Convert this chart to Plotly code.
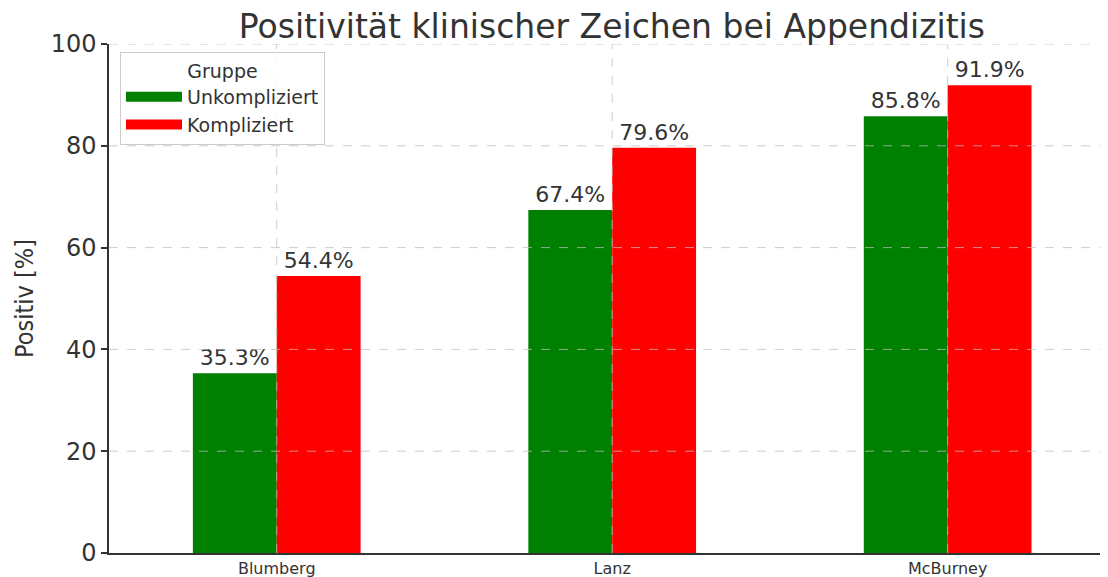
import plotly.graph_objects as go

categories = ["Blumberg", "Lanz", "McBurney"]
unkompliziert = [35.3, 67.4, 85.8]
kompliziert = [54.4, 79.6, 91.9]
series_names = ["Unkompliziert", "Kompliziert"]
colors = ["#008000", "#ff0000"]
y_ticks = [0, 20, 40, 60, 80, 100]

TXT = "#333333"
GRID = "rgba(190,190,190,0.75)"

fig = go.Figure()
for name, vals, col in zip(series_names, [unkompliziert, kompliziert], colors):
    fig.add_trace(go.Bar(
        x=categories, y=vals, name=name, showlegend=False,
        marker=dict(color=col, line=dict(width=0)),
        text=[f"{v:.1f}%" for v in vals],
        textposition="outside",
        textfont=dict(family="DejaVu Sans", size=22, color=TXT),
        cliponaxis=False,
    ))
# legend entries drawn as wide patches
for name, col in zip(series_names, colors):
    fig.add_trace(go.Scatter(
        x=[None], y=[None], mode="lines", name=name,
        line=dict(color=col, width=12),
    ))

shapes = []
for c in categories:
    shapes.append(dict(type="line", xref="x", yref="paper", x0=c, x1=c, y0=0, y1=1,
                       line=dict(color=GRID, width=1, dash="dash"), layer="above"))
for t in y_ticks[1:]:
    shapes.append(dict(type="line", xref="paper", yref="y", x0=0, x1=1, y0=t, y1=t,
                       line=dict(color=GRID, width=1, dash="dash"), layer="above"))

fig.update_layout(
    width=1100, height=569,
    margin=dict(l=101, r=0, t=36, b=24, autoexpand=False),
    paper_bgcolor="white", plot_bgcolor="white",
    barmode="group", bargap=0.5, bargroupgap=0,
    shapes=shapes,
    title=dict(text="Positivität klinischer Zeichen bei Appendizitis",
               x=0.549, xanchor="center", y=0.988, yanchor="top",
               font=dict(family="DejaVu Sans", size=33, color=TXT)),
    legend=dict(
        title=dict(text="Gruppe", side="top center",
                   font=dict(family="DejaVu Sans", size=19, color=TXT)),
        x=0.011, y=0.984, xanchor="left", yanchor="top",
        bgcolor="rgba(255,255,255,0.85)", bordercolor="#cccccc", borderwidth=1,
        font=dict(family="DejaVu Sans", size=19, color=TXT),
        itemwidth=56, tracegroupgap=0,
    ),
    xaxis=dict(
        type="category", range=[-0.5, 2.478], automargin=False,
        showgrid=False, showline=True, linecolor=TXT, linewidth=1.5,
        ticks="", tickfont=dict(family="DejaVu Sans", size=16, color=TXT),
    ),
    yaxis=dict(
        range=[0, 100], tickvals=y_ticks, automargin=False,
        showgrid=False, zeroline=False,
        showline=True, linecolor=TXT, linewidth=1.5,
        ticks="outside", ticklen=6, tickcolor=TXT, tickwidth=1.5,
        tickfont=dict(family="DejaVu Sans", size=24, color=TXT),
        title=dict(text="Positiv [%]", standoff=10,
                   font=dict(family="DejaVu Sans Condensed, Liberation Sans Narrow, DejaVu Sans", size=25, color=TXT)),
    ),
)

fig.write_html("out.html")
